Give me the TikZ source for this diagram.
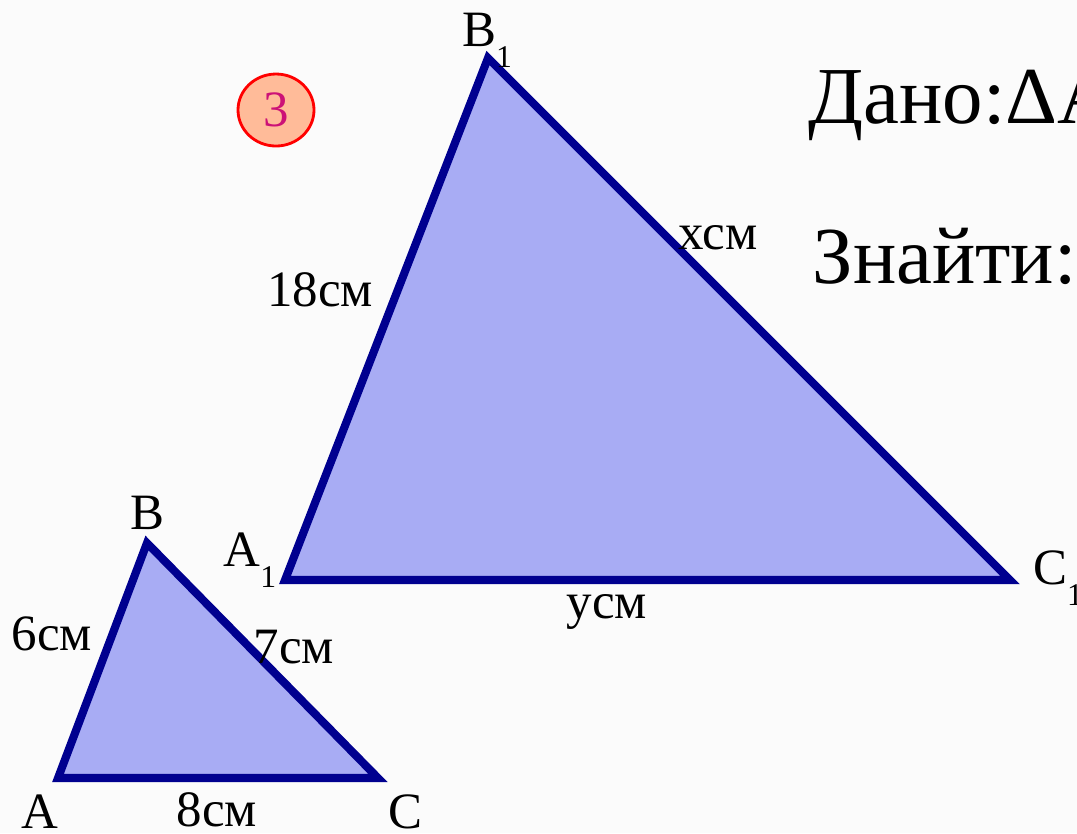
\documentclass[tikz,border=0pt]{standalone}
\usepackage{fontspec}
\setmainfont{Liberation Serif}
\usetikzlibrary{shapes.geometric}
\definecolor{trifill}{HTML}{A8ACF4}
\definecolor{triline}{HTML}{00008F}
\definecolor{badge}{HTML}{FFBB99}
\definecolor{badgetext}{HTML}{CC1177}
\newcommand{\sub}[1]{\raisebox{-0.9ex}{\fontsize{9}{9}\selectfont #1}}
\begin{document}
\begin{tikzpicture}[
    tri/.style={draw=triline,fill=trifill,line width=2.3pt,miter limit=20},
    lbl/.style={font=\fontsize{14.5}{16}\selectfont,inner sep=0pt},
    big/.style={font=\fontsize{23}{26}\selectfont,inner sep=0pt,anchor=base west}]
  \clip (0,0) rectangle (10.77,-8.33);
  \fill[gray!3] (0,0) rectangle (10.77,-8.33);
  % big triangle
  \coordinate (A1) at (2.85,-5.80);
  \coordinate (B1) at (4.88,-0.58);
  \coordinate (C1) at (10.10,-5.80);
  \draw[tri] (A1) -- (B1) -- (C1) -- cycle;
  % small triangle
  \coordinate (A) at (0.58,-7.78);
  \coordinate (B) at (1.47,-5.43);
  \coordinate (C) at (3.78,-7.78);
  \draw[tri] (A) -- (B) -- (C) -- cycle;
  % vertex names
  \node[lbl] (nB1) at (4.87,-0.40) {B\sub{1}};
  \node[lbl] (nA1) at (2.50,-5.60) {A\sub{1}};
  \node[lbl] (nC1) at (10.58,-5.78) {C\sub{1}};
  \node[lbl] (nB) at (1.47,-5.13) {B};
  \node[lbl] (nA) at (0.40,-8.12) {A};
  \node[lbl] (nC) at (4.05,-8.12) {C};
  % side lengths
  \node[lbl] (lx) at (7.18,-2.38) {хсм};
  \node[lbl] (l18) at (3.20,-2.90) {18см};
  \node[lbl] (ly) at (6.07,-6.12) {усм};
  \node[lbl] (l6) at (0.52,-6.34) {6см};
  \node[lbl] (l7) at (2.94,-6.47) {7см};
  \node[lbl] (l8) at (2.17,-8.10) {8см};
  % badge
  \node[ellipse,draw=red,fill=badge,thick,minimum width=7.6mm,minimum height=7.2mm,
        text=badgetext,lbl] (num) at (2.76,-1.10) {3};
  % text
  \node[big] (given) at (8.08,-1.23) {Дано:ΔA};
  \node[big] (find) at (8.12,-2.83) {Знайти:};
\end{tikzpicture}
\end{document}
